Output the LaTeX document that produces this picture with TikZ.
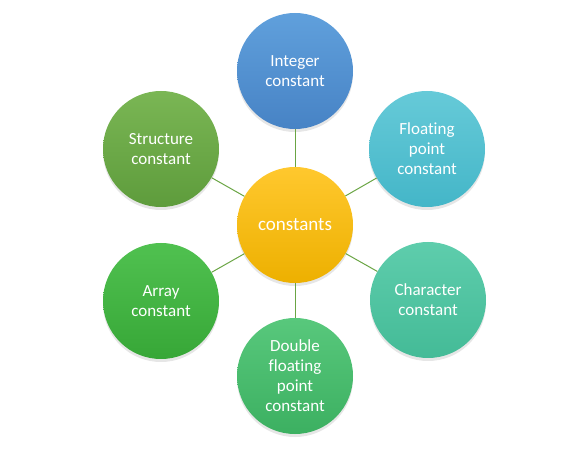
\documentclass[tikz,border=0pt]{standalone}
\usepackage{fontspec}
\setmainfont{Carlito}[Ligatures=NoCommon]
\usetikzlibrary{shadows}
\definecolor{LinkClr}{HTML}{6AA544}
\definecolor{CtrTop}{HTML}{FFC82E}\definecolor{CtrBot}{HTML}{EDB000}
\definecolor{IntTop}{HTML}{60A0DC}\definecolor{IntBot}{HTML}{4783C5}
\definecolor{FltTop}{HTML}{66CAD8}\definecolor{FltBot}{HTML}{44B6C8}
\definecolor{ChrTop}{HTML}{5ECDAC}\definecolor{ChrBot}{HTML}{44BB97}
\definecolor{DblTop}{HTML}{58C87C}\definecolor{DblBot}{HTML}{3CB061}
\definecolor{ArrTop}{HTML}{50C150}\definecolor{ArrBot}{HTML}{37A737}
\definecolor{StrTop}{HTML}{7AB654}\definecolor{StrBot}{HTML}{5E9C3C}

\begin{document}
\begin{tikzpicture}[x=1pt,y=-1pt,
  bubble/.style={circle,minimum size=116pt,inner sep=0pt,align=center,
    text=white,font=\fontsize{17}{20}\selectfont,
    drop shadow={opacity=0.2,shadow xshift=0pt,shadow yshift=-3pt}},
  link/.style={draw=LinkClr,line width=1pt}]
\useasboundingbox (0,0) rectangle (571,457);

\node[bubble,top color=CtrTop,bottom color=CtrBot,font=\fontsize{19}{22}\selectfont] (ctr) at (295,225) {constants};

\node[bubble,top color=IntTop,bottom color=IntBot] (int) at (295,71) {Integer\\constant};
\node[bubble,top color=FltTop,bottom color=FltBot] (flt) at (427,149) {Floating\\point\\constant};
\node[bubble,top color=ChrTop,bottom color=ChrBot] (chr) at (428,300) {Character\\constant};
\node[bubble,top color=DblTop,bottom color=DblBot] (dbl) at (295,376) {Double\\floating\\point\\constant};
\node[bubble,top color=ArrTop,bottom color=ArrBot] (arr) at (161,301) {Array\\constant};
\node[bubble,top color=StrTop,bottom color=StrBot] (str) at (161,149) {Structure\\constant};

\foreach \n in {int,flt,chr,dbl,arr,str}
  \draw[link] (ctr) -- (\n);

\end{tikzpicture}
\end{document}
